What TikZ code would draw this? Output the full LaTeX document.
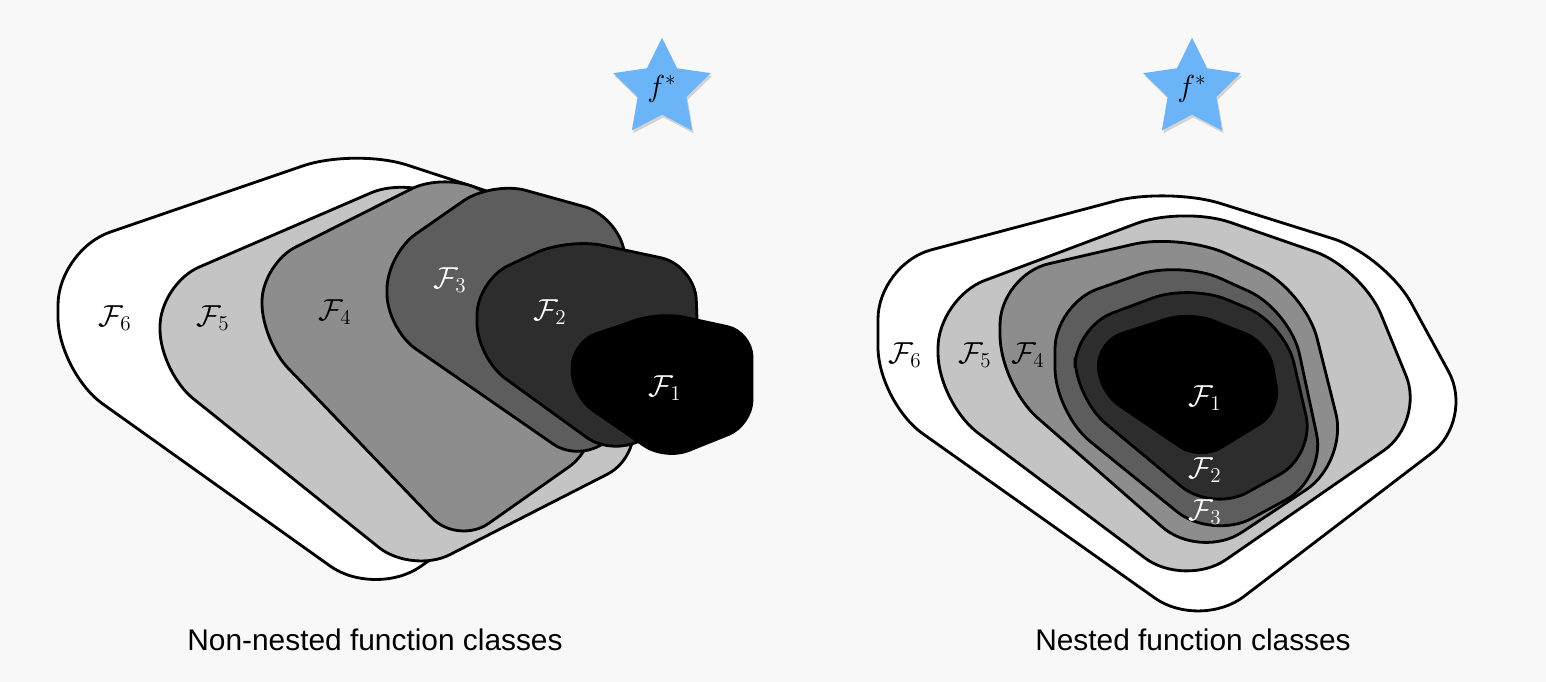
\documentclass[tikz,border=0pt]{standalone}
\usepackage{fontspec}
\setmainfont{Liberation Sans}
\usetikzlibrary{shapes.geometric,shadows}
\definecolor{bgcol}{HTML}{F8F8F8}
\definecolor{starblue}{HTML}{6CB4F8}
\definecolor{fcfive}{HTML}{C4C4C4}
\definecolor{fcfour}{HTML}{8D8D8D}
\definecolor{fcthree}{HTML}{5D5D5D}
\definecolor{fctwo}{HTML}{2D2D2D}
\tikzset{
  fclass/.style={draw=black, line width=1.6pt, line join=round},
  flabel/.style={font=\fontsize{17}{17}\selectfont, inner sep=0pt},
  caption/.style={font=\fontsize{17}{20}\selectfont, inner sep=0pt},
  goal/.style={star, star points=5, star point ratio=2, minimum size=2.05cm, inner sep=0pt,
    fill=starblue, font=\fontsize{17}{17}\selectfont,
    drop shadow={shadow xshift=0.8pt, shadow yshift=-1.6pt, opacity=0.15, fill=black}}
}
\begin{document}
\begin{tikzpicture}[x=0.02cm, y=-0.02cm]
  \fill[bgcol] (0,0) rectangle (1546,682);

  % non-nested classes
  \draw[fclass, fill=white, rounded corners=1.1cm] (58,250) -- (355,148) -- (560,215) -- (560,470) -- (375,598) -- (58,372) -- cycle;
  \draw[fclass, fill=fcfive, rounded corners=0.85cm] (160,284) -- (410,176) -- (590,290) -- (645,455) -- (412,574) -- (160,372) -- cycle;
  \draw[fclass, fill=fcfour, rounded corners=0.75cm] (262,264) -- (445,172) -- (560,230) -- (600,445) -- (458,545) -- (262,341) -- cycle;
  \draw[fclass, fill=fcthree, rounded corners=0.7cm] (387,254) -- (492,181) -- (618,216) -- (650,400) -- (582,464) -- (387,329) -- cycle;
  \draw[fclass, fill=fctwo, rounded corners=0.7cm] (477,280) -- (568,238) -- (695,265) -- (700,400) -- (615,458) -- (477,358) -- cycle;
  \draw[fclass, fill=black, rounded corners=0.5cm] (572,342) -- (660,312) -- (752,332) -- (752,425) -- (665,460) -- (572,396) -- cycle;

  \node[flabel] (nn6) at (115,318) {$\mathcal{F}_6$};
  \node[flabel] (nn5) at (213,318) {$\mathcal{F}_5$};
  \node[flabel] (nn4) at (335,312) {$\mathcal{F}_4$};
  \node[flabel, text=white] (nn3) at (450,280) {$\mathcal{F}_3$};
  \node[flabel, text=white] (nn2) at (550,312) {$\mathcal{F}_2$};
  \node[flabel, text=white] (nn1) at (665,388) {$\mathcal{F}_1$};

  % nested classes
  \draw[fclass, fill=white, rounded corners=1.1cm] (878,264) -- (1168,187) -- (1385,255) -- (1475,420) -- (1200,630) -- (878,402) -- cycle;
  \draw[fclass, fill=fcfive, rounded corners=1cm] (938,298) -- (1183,206) -- (1362,268) -- (1425,422) -- (1185,588) -- (938,403) -- cycle;
  \draw[fclass, fill=fcfour, rounded corners=1cm] (1000,275) -- (1182,233) -- (1305,290) -- (1348,462) -- (1200,560) -- (1000,385) -- cycle;
  \draw[fclass, fill=fcthree, rounded corners=0.9cm] (1055,304) -- (1180,260) -- (1290,310) -- (1326,478) -- (1212,540) -- (1055,413) -- cycle;
  \draw[fclass, fill=fctwo, rounded corners=0.8cm] (1075,327) -- (1190,284) -- (1285,324) -- (1315,455) -- (1212,512) -- (1075,398) -- cycle;
  \fill[black, rounded corners=0.5cm] (1097,340) -- (1190,310) -- (1270,342) -- (1282,412) -- (1200,462) -- (1097,392) -- cycle;

  \node[flabel] (ns6) at (905,355) {$\mathcal{F}_6$};
  \node[flabel] (ns5) at (975,355) {$\mathcal{F}_5$};
  \node[flabel] (ns4) at (1028,355) {$\mathcal{F}_4$};
  \node[flabel, text=white] (ns1) at (1205,398) {$\mathcal{F}_1$};
  \node[flabel, text=white] (ns2) at (1205,470) {$\mathcal{F}_2$};
  \node[flabel, text=white] (ns3) at (1205,512) {$\mathcal{F}_3$};

  % targets
  \node[goal] (goalL) at (662,89) {$f^*$};
  \node[goal] (goalR) at (1192,89) {$f^*$};

  \node[caption] (capL) at (375,640) {Non-nested function classes};
  \node[caption] (capR) at (1193,640) {Nested function classes};
\end{tikzpicture}
\end{document}
